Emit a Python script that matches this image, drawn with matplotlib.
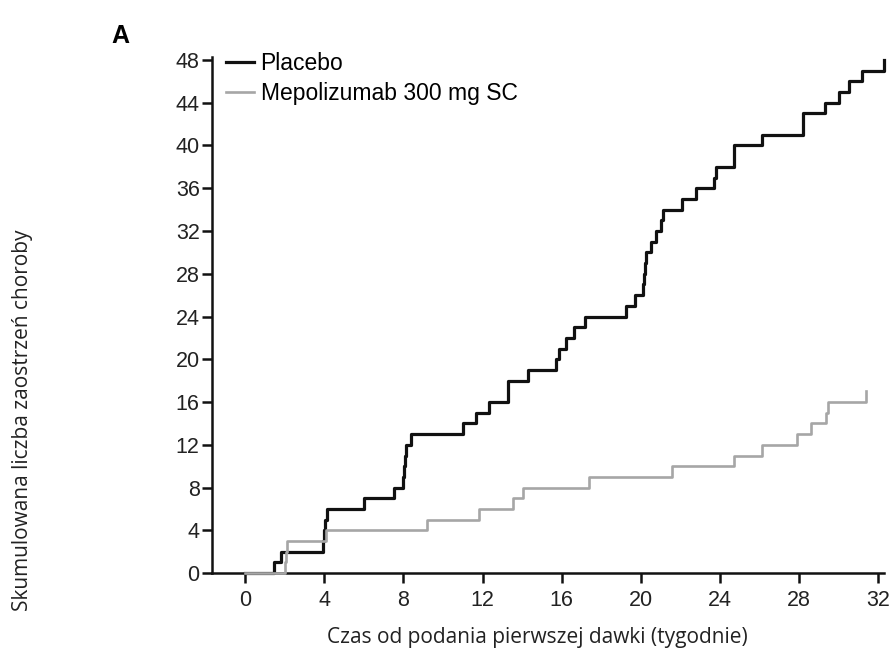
import numpy as np
import matplotlib
matplotlib.use("Agg")
import matplotlib.pyplot as plt

# czas (tygodnie) i skumulowana liczba zaostrzeń
placebo_t = [0.0, 1.47, 1.8, 3.95, 4.0, 4.05, 4.15, 6.0, 7.5, 8.0, 8.05, 8.1, 8.15, 8.4,
             11.0, 11.65, 12.3, 13.3, 14.3, 15.7, 15.85, 16.2, 16.6, 17.2, 19.25, 19.7,
             20.1, 20.15, 20.2, 20.25, 20.5, 20.75, 21.0, 21.1, 22.1, 22.8, 23.7, 23.8,
             24.7, 26.1, 28.2, 29.3, 30.0, 30.5, 31.2, 32.3]
placebo_n = [0, 1, 2, 3, 4, 5, 6, 7, 8, 9, 10, 11, 12, 13,
             14, 15, 16, 18, 19, 20, 21, 22, 23, 24, 25, 26,
             27, 28, 29, 30, 31, 32, 33, 34, 35, 36, 37, 38,
             40, 41, 43, 44, 45, 46, 47, 48]

mepo_t = [0.0, 2.0, 2.05, 2.1, 4.1, 9.2, 11.8, 13.55, 14.05, 17.4, 21.55, 24.7,
          26.1, 27.9, 28.6, 29.35, 29.45, 31.4]
mepo_n = [0, 1, 2, 3, 4, 5, 6, 7, 8, 9, 10, 11, 12, 13, 14, 15, 16, 17]

xticks = [0, 4, 8, 12, 16, 20, 24, 28, 32]
yticks = [0, 4, 8, 12, 16, 20, 24, 28, 32, 36, 40, 44, 48]

plt.rcParams['font.family'] = ['Liberation Sans', 'DejaVu Sans']

fig = plt.figure(figsize=(8.95, 6.52), dpi=100)
ax = fig.add_axes([0.237, 0.121, 0.751, 0.792])

ax.plot(placebo_t, placebo_n, drawstyle='steps-post', color='#111111', lw=2.3,
        label='Placebo', clip_on=False, zorder=3)
ax.plot(mepo_t, mepo_n, drawstyle='steps-post', color='#a6a6a6', lw=1.9,
        label='Mepolizumab 300 mg SC', clip_on=False, zorder=4)

ax.set_xlim(-1.67, 32.3)
ax.set_ylim(0, 48.3)
ax.set_xticks(xticks)
ax.set_yticks(yticks)
ax.tick_params(axis='both', direction='out', length=7, width=1.8, labelsize=15.5,
               color='#111111', labelcolor='#222222')
ax.tick_params(axis='x', pad=5)
ax.tick_params(axis='y', pad=2)
for s in ['top', 'right']:
    ax.spines[s].set_visible(False)
for s in ['left', 'bottom']:
    ax.spines[s].set_linewidth(1.8)
    ax.spines[s].set_color('#111111')

ax.legend(loc='upper left', bbox_to_anchor=(-0.003, 1.04), frameon=False,
          fontsize=16.5, handlelength=1.2, handletextpad=0.3, labelspacing=0.3,
          borderaxespad=0.3)

fig.text(0.6, 1 - 637 / 652, 'Czas od podania pierwszej dawki (tygodnie)', ha='center',
         va='center', fontsize=15, family='Open Sans', color='#222222')
fig.text(0.025, 1 - 420 / 652, 'Skumulowana liczba zaostrzeń choroby', rotation=90,
         ha='center', va='center', fontsize=15, family='Open Sans', color='#222222')
fig.text(0.125, 0.945, 'A', fontsize=18, fontweight='bold', ha='left', va='center')

fig.savefig('out.png', dpi=100)
